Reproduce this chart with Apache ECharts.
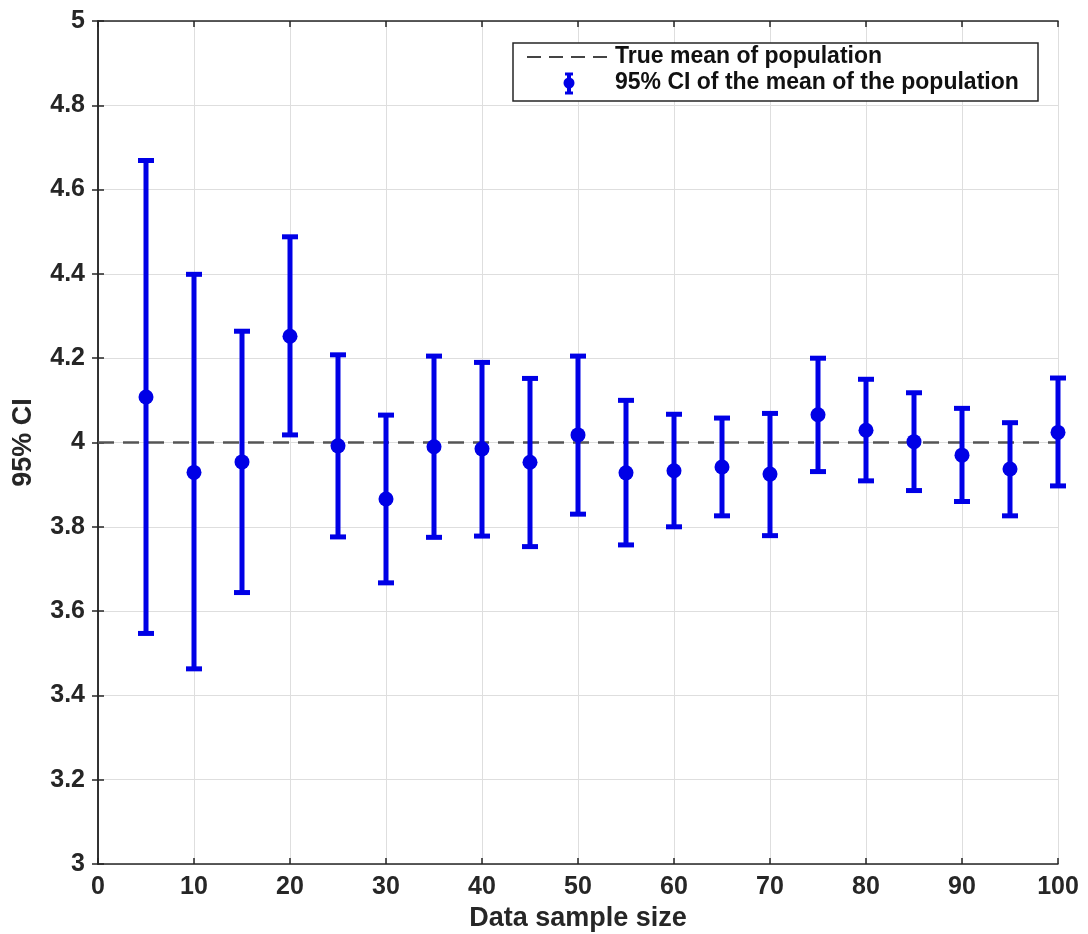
<!DOCTYPE html>
<html>
<head>
<meta charset="utf-8">
<script src="https://cdn.jsdelivr.net/npm/echarts@6/dist/echarts.min.js"></script>
<style>html,body{margin:0;padding:0;background:#fff}#c{width:1088px;height:934px}</style>
</head>
<body>
<div id="c"></div>
<script>
const sampleSizes = [5,10,15,20,25,30,35,40,45,50,55,60,65,70,75,80,85,90,95,100];
const means = [4.108,3.929,3.954,4.252,3.992,3.866,3.990,3.985,3.953,4.018,3.928,3.933,3.942,3.925,4.066,4.029,4.002,3.970,3.937,4.024];
const upper = [4.669,4.399,4.264,4.488,4.208,4.065,4.205,4.190,4.152,4.205,4.100,4.067,4.058,4.069,4.200,4.150,4.118,4.081,4.047,4.153];
const lower = [3.547,3.463,3.644,4.018,3.776,3.667,3.775,3.778,3.753,3.830,3.757,3.800,3.826,3.779,3.931,3.909,3.886,3.860,3.826,3.897];
const trueMean = 4;
const xRange = [0, 100];
const yTicks = ['3','3.2','3.4','3.6','3.8','4','4.2','4.4','4.6','4.8','5'];

const BLUE = '#0000e6';
const FONT = '"Liberation Sans", Arial, sans-serif';
const TXT = '#262626';

const chart = echarts.init(document.getElementById('c'));
const ciData = sampleSizes.map((n, i) => [n, lower[i], upper[i]]);
const meanData = sampleSizes.map((n, i) => [n, means[i]]);

const axisCommon = {
  axisLine: {show: true, lineStyle: {color: TXT, width: 1.5}},
  axisTick: {show: true, inside: true, length: 6, lineStyle: {color: TXT, width: 1.5}},
  splitLine: {show: false}
};

chart.setOption({
  animation: false,
  backgroundColor: '#fff',
  grid: {left: 98, right: 30, top: 21, bottom: 70, containLabel: false, outerBoundsMode: 'none'},
  xAxis: [
    Object.assign({}, axisCommon, {
      type: 'value', min: xRange[0], max: xRange[1], interval: 10,
      name: 'Data sample size', nameLocation: 'middle', nameGap: 27,
      nameTextStyle: {fontFamily: FONT, fontWeight: 'bold', fontSize: 27, color: TXT},
      axisLabel: {fontFamily: FONT, fontWeight: 'bold', fontSize: 25, color: TXT, margin: 11},
      splitLine: {show: true, lineStyle: {color: '#dedede', width: 1}}
    }),
    Object.assign({}, axisCommon, {
      type: 'value', min: xRange[0], max: xRange[1], interval: 10, position: 'top',
      axisLabel: {show: false}
    })
  ],
  yAxis: [
    Object.assign({}, axisCommon, {
      type: 'value', min: 3, max: 5, interval: 0.2,
      name: '95% CI', nameLocation: 'middle', nameGap: 61, nameRotate: 90,
      nameTextStyle: {fontFamily: FONT, fontWeight: 'bold', fontSize: 27, color: TXT},
      axisLabel: {fontFamily: FONT, fontWeight: 'bold', fontSize: 25, color: TXT, margin: 13,
        formatter: (v) => { const idx = Math.round((v - 3) / 0.2); return yTicks[idx] !== undefined ? yTicks[idx] : ''; }},
      splitLine: {show: true, lineStyle: {color: '#dedede', width: 1}}
    }),
    Object.assign({}, axisCommon, {
      type: 'value', min: 3, max: 5, interval: 0.2, position: 'right',
      axisLabel: {show: false}
    })
  ],
  series: [
    {
      name: 'True mean of population',
      type: 'line',
      data: [[xRange[0], trueMean], [xRange[1], trueMean]],
      symbol: 'none',
      lineStyle: {color: '#555555', width: 2.5, type: [16, 9]},
      z: 2
    },
    {
      name: '95% CI of the mean of the population',
      type: 'custom',
      data: ciData,
      renderItem: function (params, api) {
        const x = api.value(0);
        const lo = api.coord([x, api.value(1)]);
        const hi = api.coord([x, api.value(2)]);
        const cw = 8;
        const style = {stroke: BLUE, lineWidth: 5, fill: 'none'};
        return {
          type: 'group',
          children: [
            {type: 'line', shape: {x1: lo[0], y1: lo[1], x2: hi[0], y2: hi[1]}, style: style},
            {type: 'line', shape: {x1: hi[0] - cw, y1: hi[1], x2: hi[0] + cw, y2: hi[1]}, style: style},
            {type: 'line', shape: {x1: lo[0] - cw, y1: lo[1], x2: lo[0] + cw, y2: lo[1]}, style: style}
          ]
        };
      },
      z: 3
    },
    {
      name: 'means',
      type: 'scatter',
      data: meanData,
      symbol: 'circle',
      symbolSize: 15,
      itemStyle: {color: BLUE, opacity: 1},
      z: 4
    }
  ],
  graphic: [
    {type: 'rect', shape: {x: 513, y: 43, width: 525, height: 58},
     style: {fill: '#fff', stroke: TXT, lineWidth: 1.5}, z: 100},
    {type: 'line', shape: {x1: 527, y1: 57, x2: 612, y2: 57},
     style: {stroke: '#444', lineWidth: 2, lineDash: [14, 8]}, z: 101},
    {type: 'text', x: 615, y: 57, z: 101,
     style: {text: 'True mean of population', font: 'bold 23px ' + FONT, fill: '#111', textVerticalAlign: 'middle'}},
    {type: 'line', shape: {x1: 569, y1: 74, x2: 569, y2: 93}, style: {stroke: BLUE, lineWidth: 4}, z: 101},
    {type: 'line', shape: {x1: 565, y1: 74, x2: 573, y2: 74}, style: {stroke: BLUE, lineWidth: 3}, z: 101},
    {type: 'line', shape: {x1: 565, y1: 93, x2: 573, y2: 93}, style: {stroke: BLUE, lineWidth: 3}, z: 101},
    {type: 'circle', shape: {cx: 569, cy: 83, r: 5.5}, style: {fill: BLUE}, z: 101},
    {type: 'text', x: 615, y: 83, z: 101,
     style: {text: '95% CI of the mean of the population', font: 'bold 23px ' + FONT, fill: '#111', textVerticalAlign: 'middle'}}
  ]
});
</script>
</body>
</html>
